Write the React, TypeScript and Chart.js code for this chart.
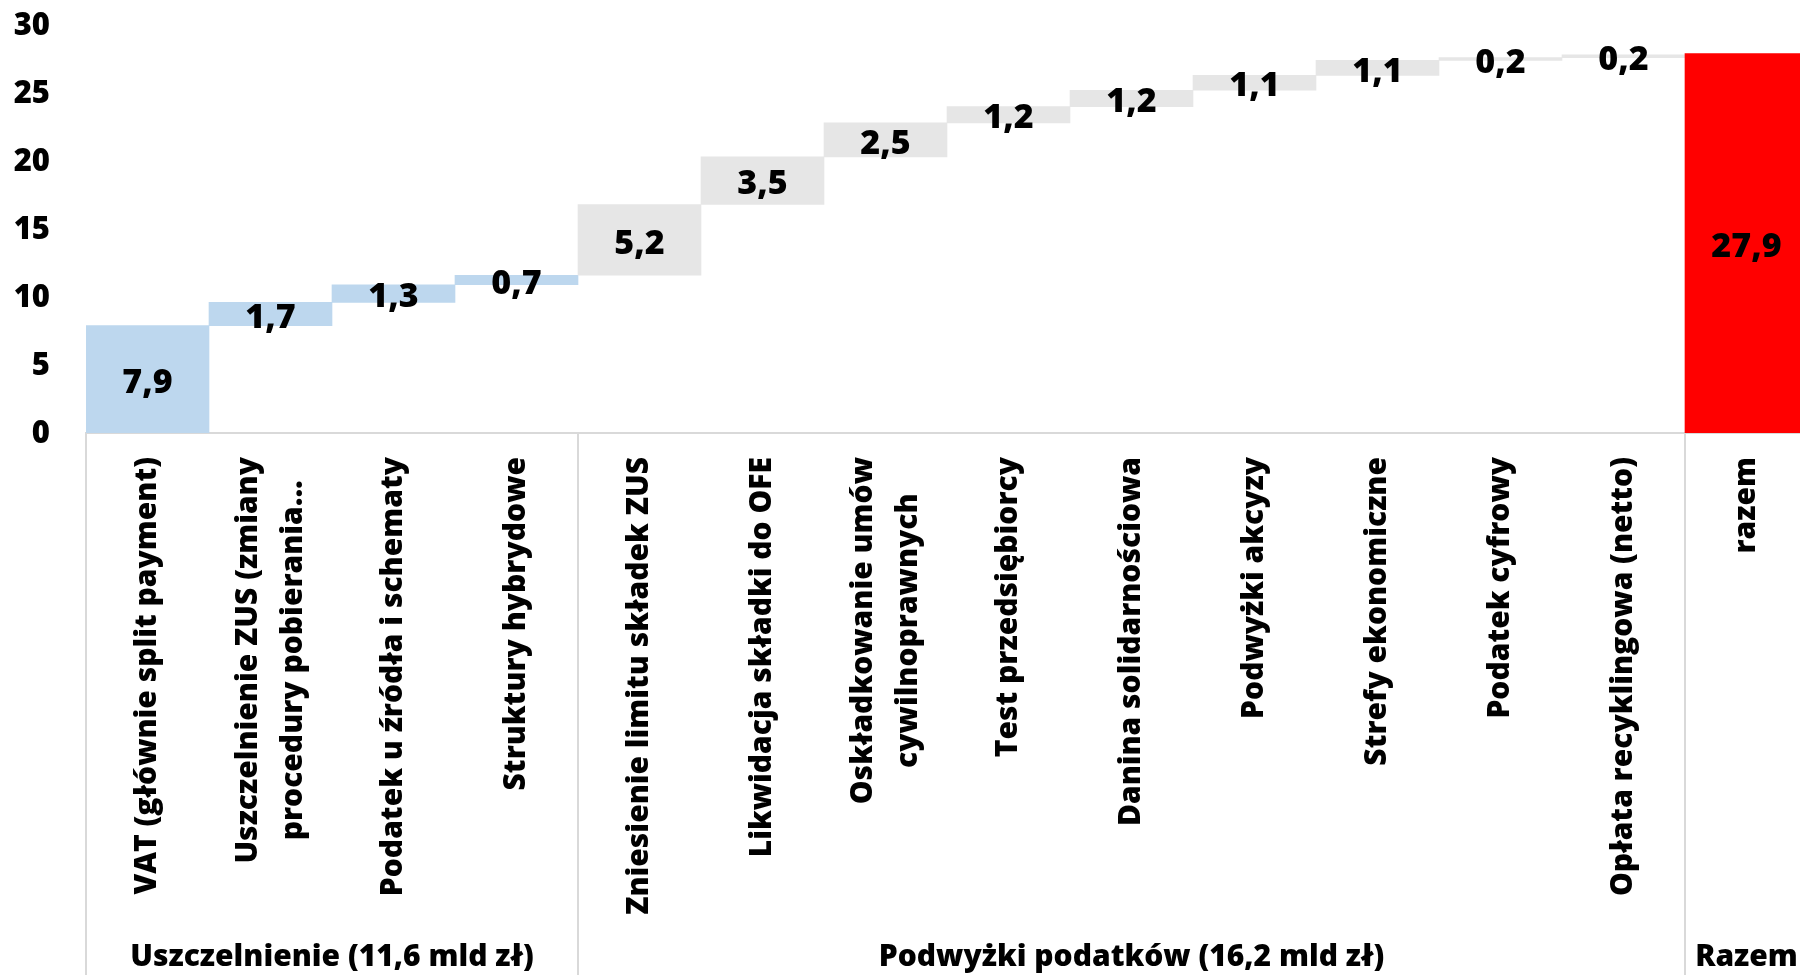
import React, { useEffect, useRef } from "react";
import { Chart, registerables } from "chart.js";

Chart.register(...registerables);

// ---- data ----
const categories: string[][] = [
  ["VAT (głównie split payment)"],
  ["Uszczelnienie ZUS (zmiany", "procedury pobierania..."],
  ["Podatek u źródła i schematy"],
  ["Struktury hybrydowe"],
  ["Zniesienie limitu składek ZUS"],
  ["Likwidacja składki do OFE"],
  ["Oskładkowanie umów", "cywilnoprawnych"],
  ["Test przedsiębiorcy"],
  ["Danina solidarnościowa"],
  ["Podwyżki akcyzy"],
  ["Strefy ekonomiczne"],
  ["Podatek cyfrowy"],
  ["Opłata recyklingowa (netto)"],
  ["razem"],
];
const increments = [7.9, 1.7, 1.3, 0.7, 5.2, 3.5, 2.5, 1.2, 1.2, 1.1, 1.1, 0.2, 0.2];
const totalValue = 27.9;
const barGroups = [0, 0, 0, 0, 1, 1, 1, 1, 1, 1, 1, 1, 1, 2];
const groupNames = ["Uszczelnienie (11,6 mld zł)", "Podwyżki podatków (16,2 mld zł)", "Razem"];
const groupStarts = [0, 4, 13];
const yMin = 0;
const yMax = 30;
const yStep = 5;

// ---- styles ----
const groupColors = ["#BDD7EE", "#E6E6E6", "#FF0000"];
const FONT = "'Open Sans', Lato, sans-serif";

function fmt(v: number) {
  return v.toFixed(1).replace(".", ",");
}

export default function App() {
  const ref = useRef<HTMLCanvasElement | null>(null);

  useEffect(() => {
    let chart: Chart | null = null;
    let cancelled = false;

    // floating bars built from the increments
    const floating: [number, number][] = [];
    let acc = 0;
    increments.forEach((v) => {
      floating.push([acc, acc + v]);
      acc += v;
    });
    floating.push([0, totalValue]);
    const labelValues = [...increments, totalValue];

    const overlay = {
      id: "overlay",
      afterDatasetsDraw(c: any) {
        const ctx = c.ctx as CanvasRenderingContext2D;
        const meta = c.getDatasetMeta(0);
        ctx.save();
        ctx.fillStyle = "#000";
        ctx.font = `800 34px ${FONT}`;
        ctx.textAlign = "center";
        ctx.textBaseline = "middle";
        meta.data.forEach((bar: any, i: number) => {
          const p = bar.getProps(["x", "y", "base"], true);
          ctx.fillText(fmt(labelValues[i]), p.x, (p.y + p.base) / 2 + 4);
        });
        ctx.restore();
      },
      afterDraw(c: any) {
        const ctx = c.ctx as CanvasRenderingContext2D;
        const xs = c.scales.x;
        const ys = c.scales.y;
        const n = categories.length;
        const cw = xs.width / n;
        const H = c.height;
        ctx.save();
        // y tick labels
        ctx.fillStyle = "#000";
        ctx.font = `800 31px ${FONT}`;
        ctx.textAlign = "right";
        ctx.textBaseline = "middle";
        ys.ticks.forEach((t: any) => {
          ctx.fillText(String(t.value), 50, ys.getPixelForValue(t.value) + 1);
        });
        // group separators
        ctx.strokeStyle = "#D9D9D9";
        ctx.lineWidth = 2;
        groupStarts.forEach((g) => {
          const x = Math.round(xs.getPixelForValue(g) - cw / 2);
          ctx.beginPath();
          ctx.moveTo(x, xs.top);
          ctx.lineTo(x, H);
          ctx.stroke();
        });
        // rotated category labels
        ctx.font = `800 30px ${FONT}`;
        ctx.textAlign = "center";
        ctx.textBaseline = "middle";
        const top = xs.top + 24;
        const lineH = 45;
        categories.forEach((lines, i) => {
          const cx = xs.getPixelForValue(i);
          const W = Math.max(...lines.map((l) => ctx.measureText(l).width));
          lines.forEach((line, j) => {
            const lx = cx + (j - (lines.length - 1) / 2) * lineH;
            ctx.save();
            ctx.translate(lx, top + W / 2);
            ctx.rotate(-Math.PI / 2);
            ctx.fillText(line, 0, 0);
            ctx.restore();
          });
        });
        // group labels
        ctx.font = `800 30px ${FONT}`;
        groupNames.forEach((name, g) => {
          const s = groupStarts[g];
          const e = g + 1 < groupStarts.length ? groupStarts[g + 1] - 1 : n - 1;
          const x0 = xs.getPixelForValue(s) - cw / 2;
          const x1 = xs.getPixelForValue(e) + cw / 2;
          ctx.fillText(name, (x0 + x1) / 2, 957);
        });
        ctx.restore();
      },
    };

    const build = () => {
      if (cancelled || !ref.current) return;
      chart = new Chart(ref.current, {
        type: "bar",
        data: {
          labels: categories.map((c) => c.join(" ")),
          datasets: [
            {
              data: floating as any,
              backgroundColor: barGroups.map((g) => groupColors[g]),
              borderWidth: 0,
              barPercentage: 1,
              categoryPercentage: 1,
            },
          ],
        },
        options: {
          responsive: false,
          animation: false,
          devicePixelRatio: 1,
          layout: { padding: { top: 25, left: 0, right: 0, bottom: 0 } },
          plugins: {
            legend: { display: false },
            tooltip: { enabled: false },
          },
          scales: {
            x: {
              type: "category",
              grid: { display: false, drawTicks: false },
              border: { display: true, color: "#D9D9D9", width: 2 },
              ticks: { display: false },
              afterFit: (s: any) => {
                s.height = 542;
              },
            },
            y: {
              min: yMin,
              max: yMax,
              grid: { display: false, drawTicks: false },
              border: { display: false },
              ticks: { display: false, stepSize: yStep },
              afterFit: (s: any) => {
                s.width = 86;
              },
            },
          },
        },
        plugins: [overlay],
      });
    };

    const fontsApi = (document as any).fonts;
    if (fontsApi && fontsApi.load) {
      Promise.all([fontsApi.load(`800 31px "Open Sans"`), fontsApi.load(`800 30px "Open Sans"`)])
        .catch(() => null)
        .then(build);
    } else {
      build();
    }

    return () => {
      cancelled = true;
      if (chart) chart.destroy();
    };
  }, []);

  return (
    <div
      style={{
        position: "fixed",
        left: 0,
        top: 0,
        width: 1800,
        height: 975,
        overflow: "hidden",
        background: "#FFFFFF",
      }}
    >
      <canvas ref={ref} width={1808} height={975} style={{ display: "block", width: 1808, height: 975 }} />
    </div>
  );
}
